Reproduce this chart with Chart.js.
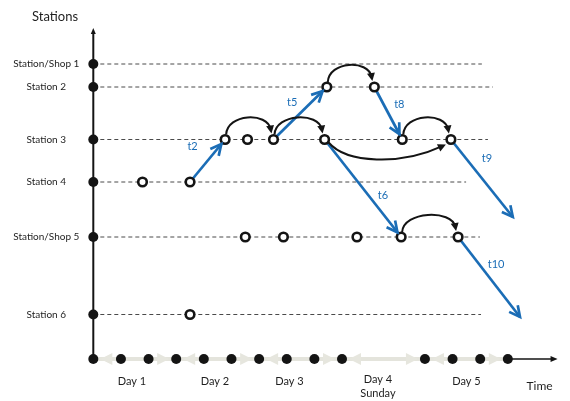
<!DOCTYPE html>
<html>
<head>
<meta charset="utf-8">
<script src="https://cdn.jsdelivr.net/npm/chart.js@4.4.1/dist/chart.umd.min.js"></script>
<style>
    html, body { margin: 0; padding: 0; background: #fff; }
</style>
</head>
<body>
<canvas id="chart" width="570" height="401"></canvas>
<script>
// Stations on the vertical axis (top to bottom) and their levels
const stations = ['Station/Shop 1', 'Station 2', 'Station 3', 'Station 4', 'Station/Shop 5', 'Station 6'];
const stationLevel = [29.5, 27.2, 21.95, 17.7, 12.2, 4.45];
const stationLineEnd = [14.06, 14.46, 14.28, 13.49, 13.99, 14.03];

// Time axis: tick dots and days
const timeTicks = [0, 1, 2, 3, 4, 5, 6, 7, 8, 9, 12, 13, 14, 15];
const dayStart = [0, 3, 6, 9, 12];
const dayEnd = [3, 6, 9, 12, 15];
const dayLabels = [['Day 1'], ['Day 2'], ['Day 3'], ['Day 4', 'Sunday'], ['Day 5']];
const dayLabelTime = [1.4, 4.4, 7.1, 10.3, 13.5];

// Visits (open circles): time and station index
const visitTime = [1.78, 3.5, 4.77, 5.58, 6.52, 8.37, 8.45, 10.17, 11.18, 12.94, 5.5, 6.88, 9.54, 11.14, 13.2, 3.5];
const visitStation = [3, 3, 2, 2, 2, 2, 1, 1, 2, 2, 4, 4, 4, 4, 4, 5];

// Transfers (blue arrows) from a visit to a visit, or to an open end
const transferLabels = ['t2', 't5', 't8', 't6', 't9', 't10'];
const transferFrom = [1, 4, 7, 5, 9, 14];
const transferTo = [2, 6, 8, 13, null, null];
const transferEndTime = [null, null, null, null, 15.18, 15.44];
const transferEndLevel = [null, null, null, null, 14.2, 4.2];

// Waiting at a station (black arcs), from visit to visit; -1 = drawn below
const waitFrom = [2, 4, 6, 8, 13, 5];
const waitTo = [4, 5, 7, 9, 14, 9];
const waitSide = [1, 1, 1, 1, 1, -1];

const BLUE = '#1b6db6';
const INK = '#141414';
const FONT = 'Lato, "Open Sans", sans-serif';
// label offsets (px) from each transfer's midpoint
const labelOffset = [[-15, -14], [-8, -11], [11, -9], [20, 7], [5, -20], [7, -13]];

function visitPoint(i) {
    return { x: visitTime[i], y: stationLevel[visitStation[i]] };
}
function transferEnd(i) {
    if (transferTo[i] !== null) return visitPoint(transferTo[i]);
    return { x: transferEndTime[i], y: transferEndLevel[i] };
}

const datasets = [];

// open circles on top
datasets.push({
    data: visitTime.map((t, i) => visitPoint(i)),
    pointRadius: 4.3,
    pointBorderWidth: 2.6,
    pointBorderColor: INK,
    pointBackgroundColor: '#fff',
    showLine: false,
    clip: false,
    order: 0
});

// filled dots on the axes
datasets.push({
    data: stations.map((s, i) => ({ x: 0, y: stationLevel[i] })).concat(timeTicks.map(t => ({ x: t, y: 0 }))),
    pointRadius: 5,
    pointBorderWidth: 0,
    pointBackgroundColor: INK,
    showLine: false,
    clip: false,
    order: 1
});

// blue transfer lines
transferLabels.forEach((lbl, i) => {
    datasets.push({
        data: [visitPoint(transferFrom[i]), transferEnd(i)],
        showLine: true,
        borderColor: BLUE,
        borderWidth: 2.7,
        pointRadius: 0,
        clip: false,
        order: 2
    });
});

// dashed station lines
stations.forEach((s, i) => {
    datasets.push({
        data: [{ x: 0, y: stationLevel[i] }, { x: stationLineEnd[i], y: stationLevel[i] }],
        showLine: true,
        borderColor: '#4a4a4a',
        borderWidth: 1,
        borderDash: [4, 3],
        pointRadius: 0,
        clip: false,
        order: 5
    });
});

function fillHead(ctx, x, y, ang, len, half) {
    ctx.beginPath();
    ctx.moveTo(x, y);
    ctx.lineTo(x - len * Math.cos(ang) + half * Math.sin(ang), y - len * Math.sin(ang) - half * Math.cos(ang));
    ctx.lineTo(x - len * Math.cos(ang) - half * Math.sin(ang), y - len * Math.sin(ang) + half * Math.cos(ang));
    ctx.closePath();
    ctx.fill();
}

function openHead(ctx, x, y, ang, len, spread) {
    ctx.beginPath();
    ctx.moveTo(x - len * Math.cos(ang - spread), y - len * Math.sin(ang - spread));
    ctx.lineTo(x, y);
    ctx.lineTo(x - len * Math.cos(ang + spread), y - len * Math.sin(ang + spread));
    ctx.stroke();
}

const diagramPlugin = {
    id: 'diagram',
    beforeDatasetsDraw(chart) {
        const ctx = chart.ctx;
        const xs = chart.scales.x, ys = chart.scales.y;
        const y0 = ys.getPixelForValue(0);
        ctx.save();
        // day bands with chevrons
        dayStart.forEach((d, i) => {
            const a = xs.getPixelForValue(d), b = xs.getPixelForValue(dayEnd[i]);
            ctx.strokeStyle = '#e4e4dc';
            ctx.lineWidth = 4;
            ctx.beginPath();
            ctx.moveTo(a, y0);
            ctx.lineTo(b, y0);
            ctx.stroke();
            ctx.fillStyle = '#e6e6de';
            ctx.beginPath();
            ctx.moveTo(a + 7, y0);
            ctx.lineTo(a + 19, y0 - 6);
            ctx.lineTo(a + 19, y0 + 6);
            ctx.closePath();
            ctx.fill();
            ctx.beginPath();
            ctx.moveTo(b - 7, y0);
            ctx.lineTo(b - 19, y0 - 6);
            ctx.lineTo(b - 19, y0 + 6);
            ctx.closePath();
            ctx.fill();
        });
        // vertical axis
        const x0 = xs.getPixelForValue(0);
        const top = ys.getPixelForValue(ys.max);
        ctx.strokeStyle = INK;
        ctx.fillStyle = INK;
        ctx.lineWidth = 2;
        ctx.beginPath();
        ctx.moveTo(x0, y0);
        ctx.lineTo(x0, top + 4);
        ctx.stroke();
        fillHead(ctx, x0, top, -Math.PI / 2, 6, 2.5);
        // time axis arrow
        const xe = xs.getPixelForValue(timeTicks[timeTicks.length - 1]);
        const xa = xs.getPixelForValue(16.8);
        ctx.lineWidth = 1.5;
        ctx.beginPath();
        ctx.moveTo(xe, y0);
        ctx.lineTo(xa - 5, y0);
        ctx.stroke();
        fillHead(ctx, xa, y0, 0, 7, 3);
        ctx.restore();
    },
    afterDatasetsDraw(chart) {
        const ctx = chart.ctx;
        const xs = chart.scales.x, ys = chart.scales.y;
        const px = p => ({ x: xs.getPixelForValue(p.x), y: ys.getPixelForValue(p.y) });
        ctx.save();

        // waiting arcs
        ctx.strokeStyle = INK;
        ctx.fillStyle = INK;
        ctx.lineWidth = 2;
        waitFrom.forEach((f, i) => {
            const a = px(visitPoint(f)), b = px(visitPoint(waitTo[i]));
            let s, c1, c2, e;
            if (waitSide[i] > 0) {
                s = { x: a.x + 1, y: a.y - 5 };
                c1 = { x: a.x + 2, y: a.y - 26 };
                c2 = { x: b.x - 6, y: b.y - 28 };
                e = { x: b.x - 2, y: b.y - 6 };
            } else {
                s = { x: a.x + 4, y: a.y + 3 };
                c1 = { x: a.x + 22, y: a.y + 24 };
                c2 = { x: b.x - 50, y: b.y + 26 };
                e = { x: b.x - 5, y: b.y + 5 };
            }
            const ang = Math.atan2(e.y - c2.y, e.x - c2.x);
            ctx.beginPath();
            ctx.moveTo(s.x, s.y);
            ctx.bezierCurveTo(c1.x, c1.y, c2.x, c2.y, e.x - 4 * Math.cos(ang), e.y - 4 * Math.sin(ang));
            ctx.stroke();
            fillHead(ctx, e.x, e.y, ang, 8, 4);
        });

        // transfer arrowheads and labels
        ctx.strokeStyle = BLUE;
        ctx.fillStyle = BLUE;
        ctx.lineWidth = 2.7;
        ctx.lineJoin = 'miter';
        ctx.font = '11px ' + FONT;
        ctx.textAlign = 'center';
        ctx.textBaseline = 'middle';
        transferLabels.forEach((lbl, i) => {
            const a = px(visitPoint(transferFrom[i])), b = px(transferEnd(i));
            const ang = Math.atan2(b.y - a.y, b.x - a.x);
            const back = transferTo[i] !== null ? 6 : 0;
            openHead(ctx, b.x - back * Math.cos(ang), b.y - back * Math.sin(ang), ang, 12, 0.47);
            ctx.fillText(lbl, (a.x + b.x) / 2 + labelOffset[i][0], (a.y + b.y) / 2 + labelOffset[i][1]);
        });

        // station labels
        const x0 = xs.getPixelForValue(0);
        ctx.fillStyle = '#1e1e1e';
        ctx.font = '10px ' + FONT;
        stations.forEach((s, i) => {
            ctx.fillText(s, x0 - 47, ys.getPixelForValue(stationLevel[i]));
        });
        ctx.font = '13px ' + FONT;
        ctx.fillText('Stations', 55, 17);

        // day labels
        ctx.font = '11px ' + FONT;
        const yb = ys.getPixelForValue(0);
        dayLabels.forEach((lines, i) => {
            const x = xs.getPixelForValue(dayLabelTime[i]);
            if (lines.length === 1) ctx.fillText(lines[0], x, yb + 22);
            else lines.forEach((l, k) => ctx.fillText(l, x, yb + 20 + k * 14));
        });
        ctx.font = '12px ' + FONT;
        ctx.fillText('Time', xs.getPixelForValue(16.15), yb + 27);
        ctx.restore();
    }
};

new Chart(document.getElementById('chart'), {
    type: 'scatter',
    data: { datasets: datasets },
    options: {
        responsive: false,
        animation: false,
        layout: { padding: { left: 93.3, right: 4.4, top: 28, bottom: 42 } },
        scales: {
            x: { type: 'linear', min: 0, max: 17, display: false },
            y: { type: 'linear', min: 0, max: 33.1, display: false }
        },
        plugins: {
            legend: { display: false },
            tooltip: { enabled: false }
        }
    },
    plugins: [diagramPlugin]
});
</script>
</body>
</html>
